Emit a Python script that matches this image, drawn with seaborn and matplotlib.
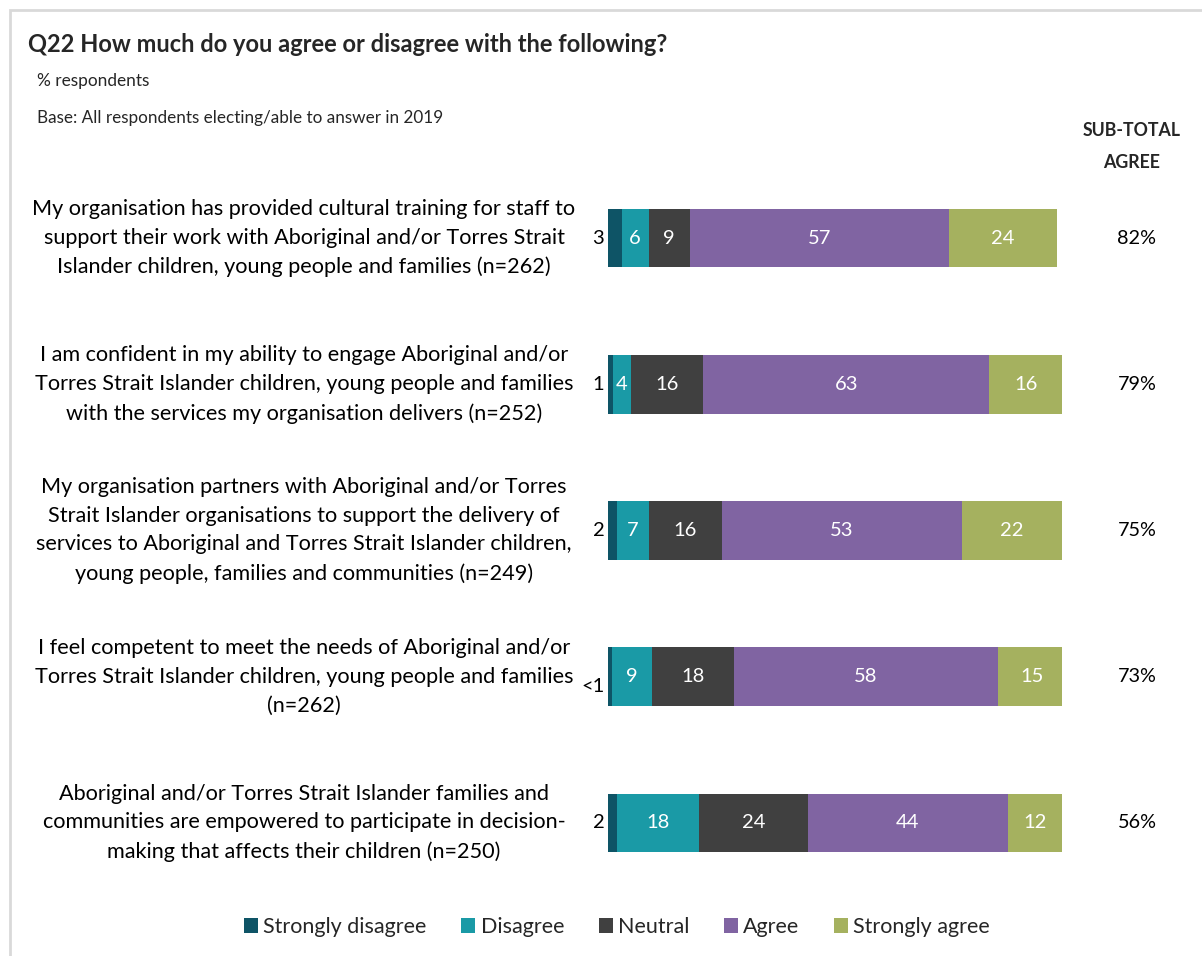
import numpy as np
import pandas as pd
import matplotlib
matplotlib.use("Agg")
import matplotlib.pyplot as plt
from matplotlib.patches import Patch, Rectangle
from matplotlib.transforms import blended_transform_factory
import seaborn as sns

sns.set_theme(style="white")
plt.rcParams["font.family"] = ["Lato", "DejaVu Sans"]

# Survey statements (y categories)
statements = [
    "My organisation has provided cultural training for staff to\nsupport their work with Aboriginal and/or Torres Strait\nIslander children, young people and families (n=262)",
    "I am confident in my ability to engage Aboriginal and/or\nTorres Strait Islander children, young people and families\nwith the services my organisation delivers (n=252)",
    "My organisation partners with Aboriginal and/or Torres\nStrait Islander organisations to support the delivery of\nservices to Aboriginal and Torres Strait Islander children,\nyoung people, families and communities (n=249)",
    "I feel competent to meet the needs of Aboriginal and/or\nTorres Strait Islander children, young people and families\n(n=262)",
    "Aboriginal and/or Torres Strait Islander families and\ncommunities are empowered to participate in decision-\nmaking that affects their children (n=250)",
]

responses = ["Strongly disagree", "Disagree", "Neutral", "Agree", "Strongly agree"]

strongly_disagree = [3, 1, 2, 0.8, 2]
disagree = [6, 4, 7, 9, 18]
neutral = [9, 16, 16, 18, 24]
agree = [57, 63, 53, 58, 44]
strongly_agree = [24, 16, 22, 15, 12]

strongly_disagree_labels = ["3", "1", "2", "<1", "2"]
subtotal_agree = ["82%", "79%", "75%", "73%", "56%"]

colors = ["#0E5466", "#1A9AA6", "#404040", "#8064A2", "#A5B15F"]

series = [strongly_disagree, disagree, neutral, agree, strongly_agree]
df = pd.DataFrame({r: v for r, v in zip(responses, series)})
df["statement"] = statements
cum = df[responses].cumsum(axis=1)

W, H = 1202, 956
fig = plt.figure(figsize=(W / 100, H / 100), dpi=100)

def fx(px):
    return px / W

def fy(py):
    return 1 - py / H

# light frame around the chart area
fig.patches.append(Rectangle((fx(10), fy(H + 5)), 1.0, (H - 5) / H,
                             transform=fig.transFigure, fill=False,
                             edgecolor="#D9D9D9", linewidth=2))

ax = fig.add_axes([fx(608), fy(896), fx(1062) - fx(608), (896 - 165) / H])

# stacked bars: draw cumulative totals from the outermost layer inwards
for resp, col in reversed(list(zip(responses, colors))):
    sns.barplot(x=cum[resp], y=df["statement"], orient="h", color=col,
                width=0.4, ax=ax, saturation=1, linewidth=0, order=statements)

ax.set_xlim(0, 100)
ax.set_ylim(4.5, -0.5)
ax.set_xlabel("")
ax.set_ylabel("")
ax.set_xticks([])
ax.set_yticks([])
for s in ax.spines.values():
    s.set_visible(False)

# segment values
for i in range(len(statements)):
    left = 0.0
    for j, resp in enumerate(responses):
        v = df[resp].iloc[i]
        if j == 0:
            small = strongly_disagree_labels[i] == "<1"
            ax.text(-0.8, i + (0.07 if small else 0), strongly_disagree_labels[i],
                    ha="right", va="center", fontsize=14.5, color="black")
        else:
            ax.text(left + v / 2, i, f"{v:g}", ha="center", va="center",
                    fontsize=14.5, color="white")
        left += v

# statement labels and sub-totals
row_tr = blended_transform_factory(fig.transFigure, ax.transData)
for i, s in enumerate(statements):
    ax.text(fx(304), i, s, transform=row_tr, ha="center", va="center",
            fontsize=15.6, linespacing=1.55, color="black")
    ax.text(fx(1137), i, subtotal_agree[i], transform=row_tr,
            ha="center", va="center", fontsize=14.3, color="black")

fig.text(fx(28), fy(45), "Q22 How much do you agree or disagree with the following?",
         ha="left", va="center", fontsize=17, fontweight="bold")
fig.text(fx(37), fy(81), "% respondents", ha="left", va="center", fontsize=12.4)
fig.text(fx(37), fy(118), "Base: All respondents electing/able to answer in 2019",
         ha="left", va="center", fontsize=12.3)
fig.text(fx(1132), fy(131), "SUB-TOTAL", ha="center", va="center", fontsize=12.8, fontweight="bold")
fig.text(fx(1132), fy(163), "AGREE", ha="center", va="center", fontsize=12.8, fontweight="bold")

handles = [Patch(facecolor=c, edgecolor="none") for c in colors]
fig.legend(handles, responses, loc="center", bbox_to_anchor=(fx(617), fy(927)),
           ncol=5, frameon=False, fontsize=15.5, handlelength=0.65, handleheight=0.65,
           handletextpad=0.25, columnspacing=1.6)

fig.savefig("out.png", dpi=100)
